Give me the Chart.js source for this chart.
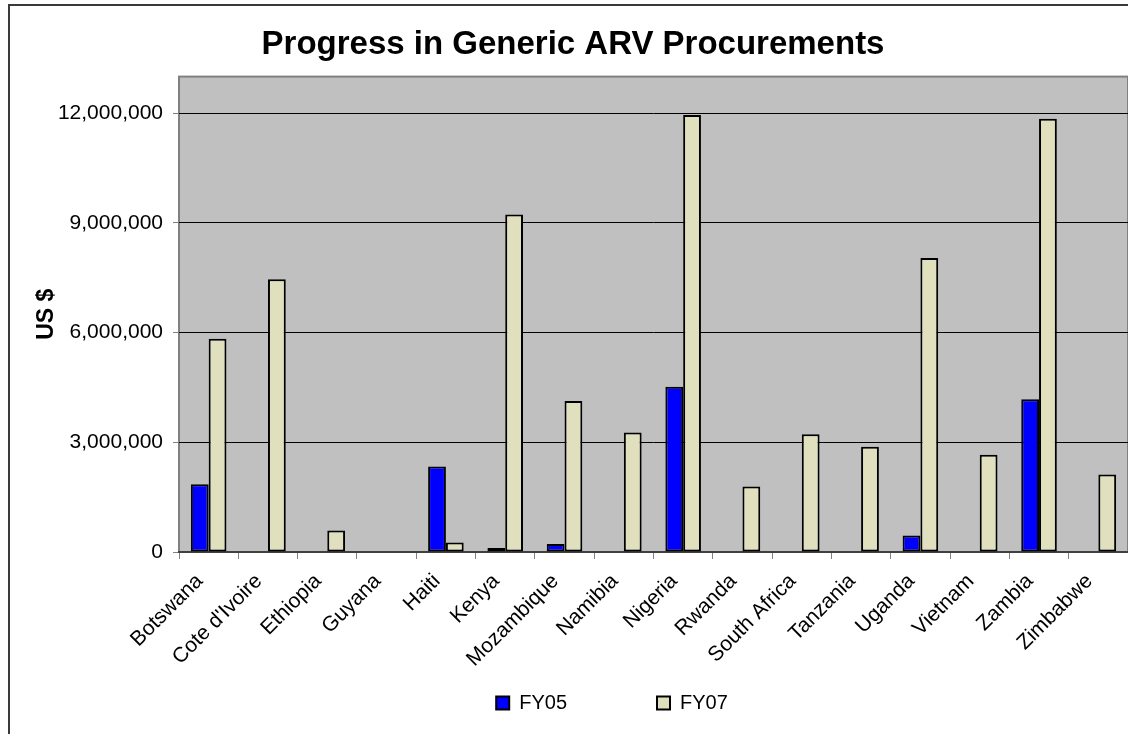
<!DOCTYPE html>
<html>
<head>
<meta charset="utf-8">
<script src="https://cdn.jsdelivr.net/npm/chart.js@4.4.1/dist/chart.umd.min.js"></script>
<style>
  html, body { margin: 0; padding: 0; background: #fff; overflow: hidden; }
  #frame { position: absolute; left: 8px; top: 4px; width: 1126px; height: 740px; border: 2px solid #3a3a3a; background: #fff; }
  #frame canvas { display: block; }
</style>
</head>
<body>
<div id="frame"><canvas id="chart" width="1126" height="740"></canvas></div>
<script>
const categories = ['Botswana', "Cote d'Ivoire", 'Ethiopia', 'Guyana', 'Haiti', 'Kenya', 'Mozambique', 'Namibia',
    'Nigeria', 'Rwanda', 'South Africa', 'Tanzania', 'Uganda', 'Vietnam', 'Zambia', 'Zimbabwe'];
const fy05 = [1850000, 0, 0, 0, 2340000, 110000, 220000, 0, 4520000, 0, 0, 0, 450000, 0, 4180000, 0];
const fy07 = [5830000, 7460000, 590000, 0, 260000, 9230000, 4130000, 3270000, 11950000, 1790000, 3220000, 2880000,
    8040000, 2660000, 11850000, 2120000];
const seriesNames = ['FY05', 'FY07'];
const yTicks = [0, 3000000, 6000000, 9000000, 12000000];
const yMax = 13000000;

const FONT = "'Liberation Sans', Arial, sans-serif";

// серый фон области построения, как в Excel
const plotBackground = {
    id: 'plotBackground',
    beforeDraw(chart) {
        const { ctx, chartArea: a } = chart;
        ctx.save();
        ctx.fillStyle = '#c0c0c0';
        ctx.fillRect(a.left, a.top, a.right - a.left, a.bottom - a.top);
        ctx.strokeStyle = '#808080';
        ctx.lineWidth = 2;
        ctx.strokeRect(a.left, a.top, a.right - a.left, a.bottom - a.top);
        ctx.restore();
    }
};

// сдвиг легенды и заголовка, чтобы совпасть с оригиналом;
// подписи оси X не обрезаем по её высоте
const boxShift = {
    id: 'boxShift',
    afterLayout(chart) {
        chart.legend.left += 43;
        chart.legend.right += 43;
        chart.titleBlock.left += 4;
        chart.titleBlock.right += 4;
        chart.scales.x.bottom = chart.height;
    }
};

new Chart(document.getElementById('chart').getContext('2d'), {
    type: 'bar',
    data: {
        labels: categories,
        datasets: [
            {
                label: seriesNames[0],
                data: fy05,
                backgroundColor: '#0000ff',
                borderColor: '#000',
                borderWidth: 2,
                borderSkipped: false
            },
            {
                label: seriesNames[1],
                data: fy07,
                backgroundColor: '#e1e0be',
                borderColor: '#000',
                borderWidth: 2,
                borderSkipped: false
            }
        ]
    },
    options: {
        responsive: false,
        animation: false,
        datasets: {
            bar: { categoryPercentage: 0.6, barPercentage: 1.0 }
        },
        layout: { padding: { left: 0, right: 8, top: 0, bottom: 23 } },
        plugins: {
            title: {
                display: true,
                text: 'Progress in Generic ARV Procurements',
                color: '#000',
                font: { family: FONT, size: 33, weight: 'bold' },
                padding: { top: 19, bottom: 12 }
            },
            legend: {
                position: 'bottom',
                labels: {
                    color: '#000',
                    font: { family: FONT, size: 20 },
                    boxWidth: 13,
                    boxHeight: 13,
                    padding: 90
                }
            },
            tooltip: { enabled: false }
        },
        scales: {
            x: {
                grid: { drawOnChartArea: false, drawTicks: true, tickLength: 7, tickColor: '#808080' },
                border: { display: true, color: '#404040', width: 2 },
                ticks: {
                    autoSkip: false,
                    maxRotation: 45,
                    minRotation: 45,
                    color: '#000',
                    padding: 10,
                    labelOffset: -9,
                    font: { family: FONT, size: 21 }
                },
                afterFit(scale) { scale.height = 51; }
            },
            y: {
                min: 0,
                max: yMax,
                afterBuildTicks(scale) {
                    scale.ticks = yTicks.map(v => ({ value: v }));
                },
                grid: { color: '#000', lineWidth: 1, tickLength: 6, tickColor: '#808080' },
                border: { display: false },
                ticks: {
                    color: '#000',
                    padding: 10,
                    font: { family: FONT, size: 21 },
                    callback: v => Number(v).toLocaleString('en-US')
                },
                title: {
                    display: true,
                    text: 'US $',
                    color: '#000',
                    font: { family: FONT, size: 23, weight: 'bold' },
                    padding: { top: 23, bottom: 0 }
                },
                afterFit(scale) { scale.width = 169; }
            }
        }
    },
    plugins: [plotBackground, boxShift]
});
</script>
</body>
</html>
